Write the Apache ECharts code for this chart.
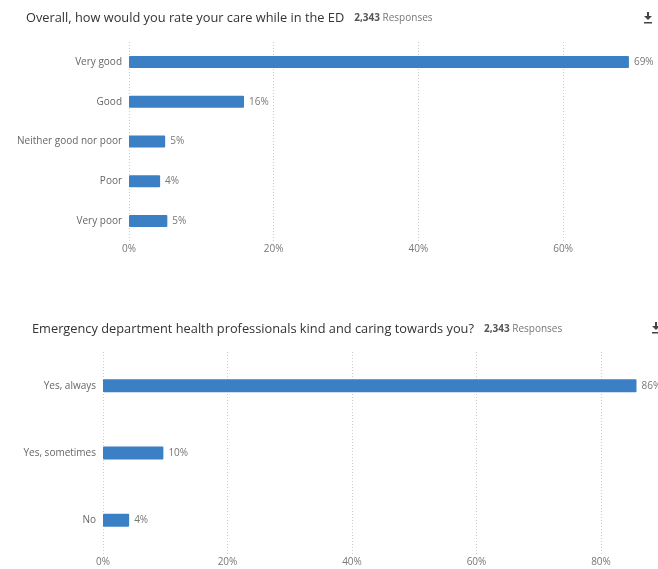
<!DOCTYPE html>
<html>
<head>
<meta charset="utf-8">
<script src="https://cdn.jsdelivr.net/npm/echarts@6/dist/echarts.min.js"></script>
<style>
  html, body { margin: 0; padding: 0; background: #fff; }
  #chart { width: 658px; height: 569px; }
</style>
</head>
<body>
<div id="chart"></div>
<script>
const careCategories = ['Very good', 'Good', 'Neither good nor poor', 'Poor', 'Very poor'];
const careValues = [69.1, 15.9, 5.0, 4.3, 5.3];
const kindCategories = ['Yes, always', 'Yes, sometimes', 'No'];
const kindValues = [85.7, 9.7, 4.2];
const responses = '2,343';

const font = '"Open Sans", "Noto Sans", sans-serif';
const barColor = '#3b80c4';

function titleText(q) {
  return '{q|' + q + '}  {n|' + responses + '}{r| Responses}';
}

const titleRich = {
  q: { fontSize: 12.8, color: '#333', fontWeight: 'normal', fontFamily: font },
  n: { fontSize: 10, color: '#555', fontWeight: 'bold', fontFamily: font },
  r: { fontSize: 10, color: '#777', fontWeight: 'normal', fontFamily: font }
};

function valueAxis(idx) {
  return {
    type: 'value', gridIndex: idx, min: 0, max: 100, interval: 20,
    axisLine: { show: false }, axisTick: { show: false },
    axisLabel: { color: '#777', fontSize: 10, fontFamily: font, margin: 3,
      formatter: v => v + '%' },
    splitLine: { show: true, lineStyle: { color: '#ccc', type: [1, 2], width: 1 } }
  };
}

function catAxis(idx, cats) {
  return {
    type: 'category', gridIndex: idx, data: cats, inverse: true,
    axisLine: { show: false }, axisTick: { show: false },
    axisLabel: { color: '#666', fontSize: 10, fontFamily: font, margin: 7 }
  };
}

function barSeries(idx, values, width) {
  return {
    type: 'bar', xAxisIndex: idx, yAxisIndex: idx, data: values,
    barWidth: width,
    itemStyle: { color: barColor, borderRadius: 1 },
    label: { show: true, position: 'right', distance: 5, color: '#777',
      fontSize: 10, fontFamily: font, formatter: p => Math.round(p.value) + '%' },
    animation: false
  };
}

// little download arrow in the top right corner
function downloadIcon(x, y) {
  return {
    type: 'group', x: x, y: y,
    children: [
      { type: 'rect', shape: { x: -1, y: -5, width: 2, height: 5 }, style: { fill: '#444' } },
      { type: 'polygon', shape: { points: [[-4, -1], [4, -1], [0, 3]] }, style: { fill: '#444' } },
      { type: 'rect', shape: { x: -4, y: 5, width: 8, height: 1.5 }, style: { fill: '#444' } }
    ]
  };
}

const chart = echarts.init(document.getElementById('chart'));
chart.setOption({
  animation: false,
  title: [
    { text: titleText('Overall, how would you rate your care while in the ED'),
      left: 26, top: 9, padding: 0, textStyle: { fontWeight: 'normal', rich: titleRich } },
    { text: titleText('Emergency department health professionals kind and caring towards you?'),
      left: 32, top: 320, padding: 0, textStyle: { fontWeight: 'normal', rich: titleRich } }
  ],
  grid: [
    { left: 129, top: 42, height: 199, width: 723.5, outerBoundsMode: 'none' },
    { left: 103, top: 352, height: 202, width: 622.5, outerBoundsMode: 'none' }
  ],
  xAxis: [valueAxis(0), valueAxis(1)],
  yAxis: [catAxis(0, careCategories), catAxis(1, kindCategories)],
  series: [barSeries(0, careValues, 12), barSeries(1, kindValues, 13)],
  graphic: [downloadIcon(648, 17), downloadIcon(656, 327)]
});
</script>
</body>
</html>
